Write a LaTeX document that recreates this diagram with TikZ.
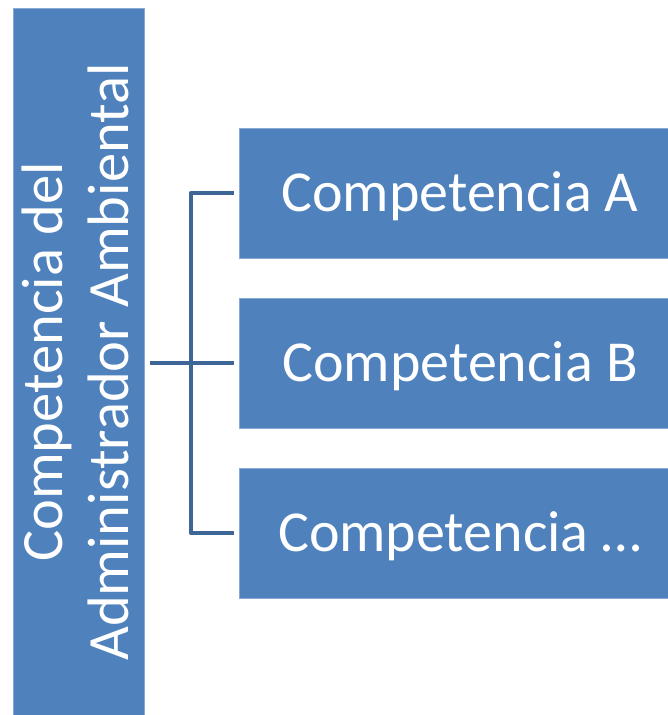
\documentclass[tikz,border=0pt]{standalone}
\usepackage{fontspec}
\setmainfont{Carlito}
\definecolor{boxblue}{HTML}{4F81BD}
\definecolor{boxedge}{HTML}{8AAAD6}
\definecolor{linkblue}{HTML}{3D6596}
\begin{document}
\begin{tikzpicture}[x=1pt,y=-1pt,
  box/.style={fill=boxblue, draw=boxedge, line width=0.6pt, inner sep=0pt},
  child/.style={box, minimum width=442pt, minimum height=130pt, text=white,
    font=\fontsize{58}{70}\selectfont, text height=36.7pt, text depth=0pt},
  rootlabel/.style={text=white, font=\fontsize{58.5}{66}\selectfont, align=center, rotate=90, inner sep=0pt},
  link/.style={draw=linkblue, line width=4.5pt, line join=round}]
\useasboundingbox (0,0) rectangle (668,715);
\node[box, minimum width=131pt, minimum height=712pt] (root) at (78.5,364) {};
\node[rootlabel] (rootl) at (75,362) {Competencia del\\Administrador Ambiental};
\node[child] (A) at (460,193) {Competencia A};
\node[child] (B) at (460,363) {Competencia B};
\node[child] (C) at (460,533) {Competencia \dots};
\coordinate (j) at (191,363);
\draw[link] ([xshift=6pt]root.east |- B.west) -- ([xshift=-5pt]B.west);
\draw[link] ([xshift=-5pt]A.west) -- (j |- A.west) -- (j |- C.west) -- ([xshift=-5pt]C.west);
\end{tikzpicture}
\end{document}
